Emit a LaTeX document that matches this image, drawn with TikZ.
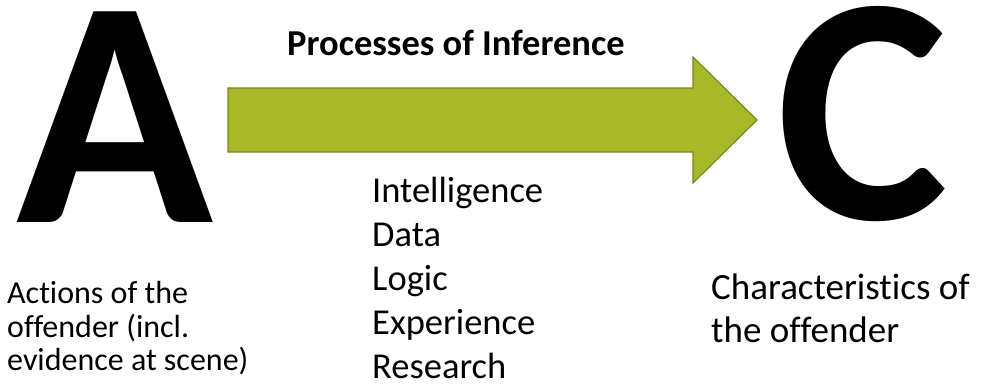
\documentclass[tikz,border=0pt]{standalone}
\usepackage{fontspec}
\setmainfont{Carlito}[Ligatures=NoCommon]
\usetikzlibrary{positioning}
\definecolor{infergreen}{RGB}{167,184,41}
\definecolor{inferedge}{RGB}{118,134,28}

\begin{document}
\begin{tikzpicture}[x=1pt, y=-1pt,
                bigletter/.style = {inner sep=0pt, anchor=base, text height=210pt, text depth=3pt, font=\fontsize{325}{325}\selectfont\bfseries},
                caption/.style = {inner sep=0pt, anchor=base west},
                listitem/.style = {caption, font=\fontsize{36.5}{44}\selectfont}
            ]
            \useasboundingbox (0,0) rectangle (987,383);
            \node[bigletter] (A) at (115,222) {A};
            \node[bigletter] (C) at (862,219) {C};
            % block arrow
            \draw[fill=infergreen, draw=inferedge, line width=1.2pt, line join=miter]
                (228,88) -- (693,88) -- (693,57) -- (757,120) -- (693,183) -- (693,152) -- (228,152) -- cycle;
            \node[font=\fontsize{36.5}{40}\selectfont\bfseries, inner sep=0pt, anchor=base] (title) at (456,55) {Processes of Inference};
            \foreach \word [count=\i from 0] in {Intelligence,Data,Logic,Experience,Research}
                \node[listitem] (item\i) at (372,{202+44*\i}) {\word};
            \node[caption, font=\fontsize{32}{33}\selectfont] (actA) at (7,303) {Actions of the};
            \node[caption, font=\fontsize{32}{33}\selectfont] (actB) at (7,337) {offender (incl.};
            \node[caption, font=\fontsize{32}{33}\selectfont] (actC) at (7,370) {evidence at scene)};
            \node[caption, font=\fontsize{37}{43}\selectfont] (charA) at (711,299) {Characteristics of};
            \node[caption, font=\fontsize{37}{43}\selectfont] (charB) at (711,342) {the offender};
        \end{tikzpicture}
\end{document}
